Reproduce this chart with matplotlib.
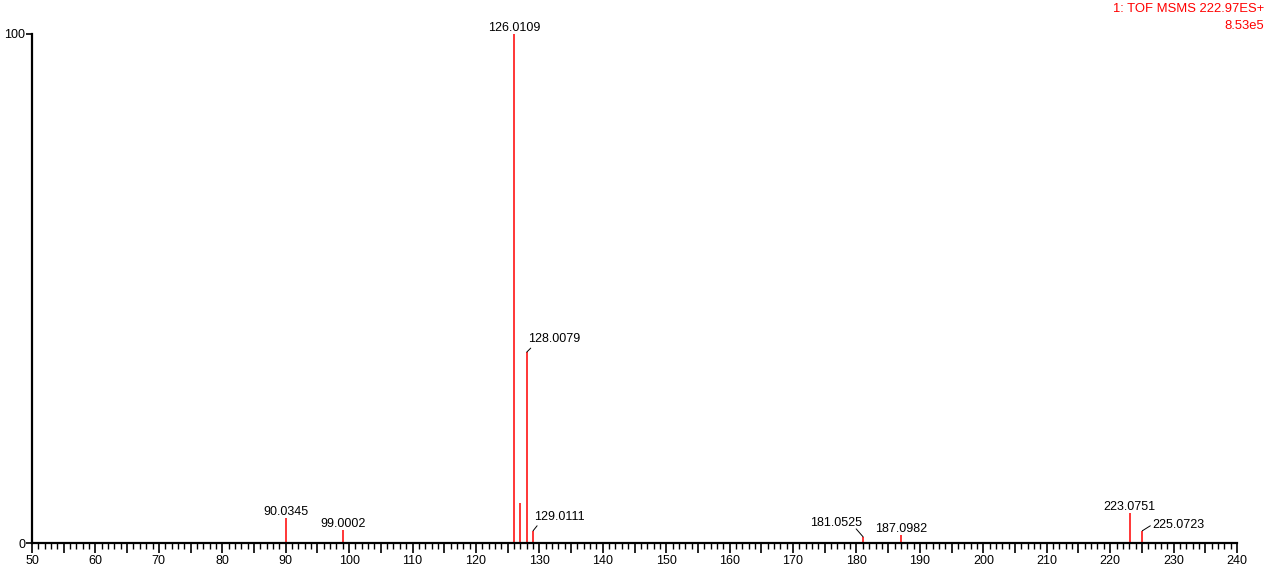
import matplotlib.pyplot as plt
from matplotlib.ticker import MultipleLocator, FuncFormatter

plt.rcParams['font.family'] = ['Liberation Sans', 'DejaVu Sans']

# peak list (m/z, relative intensity %)
mz = [90.0345, 99.0002, 126.0109, 126.95, 128.0079, 129.0111,
      181.0525, 187.0982, 223.0751, 225.0723]
intensity = [4.9, 2.5, 100, 7.9, 37.5, 2.4, 1.2, 1.6, 5.9, 2.4]
peak_labels = ['90.0345', '99.0002', '126.0109', '', '128.0079', '129.0111',
               '181.0525', '187.0982', '223.0751', '225.0723']

header = '1: TOF MSMS 222.97ES+'
base_peak = '8.53e5'

# label placement in pixels: (text dx, text dy, leader end dx, leader end dy)
offsets = {
    '128.0079': (1, 10, 4, 4),
    '129.0111': (1, 11, 4, 5),
    '181.0525': (-1, 11, -7, 8),
    '225.0723': (10, 3, 8, 5),
}

fig = plt.figure(figsize=(12.71, 5.67), dpi=100)
ax = fig.add_axes([32 / 1271, 1 - 543 / 567, 1205 / 1271, 509 / 567])

ax.vlines(mz, 0, intensity, colors='#ff0000', linewidth=1.1)

for x, y, lab in zip(mz, intensity, peak_labels):
    if not lab:
        continue
    if lab in offsets:
        tdx, tdy, ldx, ldy = offsets[lab]
        ha = 'left' if tdx > 0 else 'right'
        ax.annotate(lab, xy=(x, y), xytext=(tdx, tdy), textcoords='offset pixels',
                    ha=ha, va='baseline', fontsize=9)
        ax.annotate('', xy=(x, y), xytext=(ldx, ldy), textcoords='offset pixels',
                    arrowprops=dict(arrowstyle='-', color='black', lw=0.7,
                                    shrinkA=0, shrinkB=0))
    else:
        ax.annotate(lab, xy=(x, y), xytext=(0, 3), textcoords='offset pixels',
                    ha='center', va='baseline', fontsize=9)

ax.set_xlim(50, 240)
ax.set_ylim(0, 100)
ax.set_xticks(range(50, 241, 5))
ax.xaxis.set_major_formatter(FuncFormatter(lambda v, p: f'{int(v)}' if int(v) % 10 == 0 else ''))
ax.xaxis.set_minor_locator(MultipleLocator(1))
ax.set_yticks([0, 100])
ax.tick_params(axis='x', which='major', direction='out', length=7, width=1.2,
               labelsize=9, pad=2)
ax.tick_params(axis='x', which='minor', direction='out', length=4, width=1)
ax.tick_params(axis='y', direction='out', length=4, width=1.2, labelsize=9, pad=1)

for s in ['top', 'right']:
    ax.spines[s].set_visible(False)
for s in ['left', 'bottom']:
    ax.spines[s].set_linewidth(1.6)

fig.text(1264 / 1271, 1 - 3 / 567, header, ha='right', va='top', fontsize=9.4, color='#ff0000')
fig.text(1264 / 1271, 1 - 20 / 567, base_peak, ha='right', va='top', fontsize=9.4, color='#ff0000')

plt.savefig('out.png', dpi=100)
